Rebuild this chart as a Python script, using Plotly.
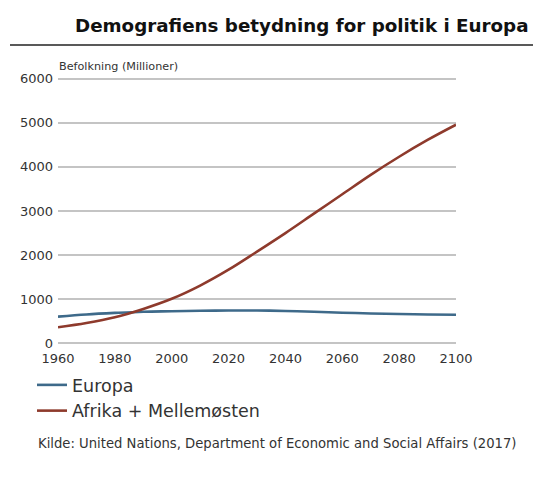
import plotly.graph_objects as go

years = [1960, 1970, 1980, 1990, 2000, 2010, 2020, 2030, 2040, 2050, 2060, 2070, 2080, 2090, 2100]
europa = [605, 655, 690, 718, 728, 738, 745, 745, 735, 715, 695, 678, 665, 655, 650]
afrika_mellemoesten = [364, 460, 590, 780, 1010, 1310, 1670, 2080, 2500, 2940, 3380, 3820, 4230, 4610, 4955]
y_ticks = [0, 1000, 2000, 3000, 4000, 5000, 6000]
x_ticks = [1960, 1980, 2000, 2020, 2040, 2060, 2080, 2100]

W, H = 533, 488
L, R, T, B = 58, 77, 76, 142
pw, ph = W - L - R, H - T - B


def px(x):
    return (x - L) / pw


def py(y):
    return (H - B - y) / ph


FONT = "DejaVu Sans"
fig = go.Figure()
fig.add_trace(go.Scatter(x=years, y=europa, name="Europa", mode="lines",
                         line=dict(color="#3e6a8a", width=2.6, shape="spline")))
fig.add_trace(go.Scatter(x=years, y=afrika_mellemoesten, name="Afrika + Mellemøsten", mode="lines",
                         line=dict(color="#8e3a2c", width=2.6, shape="spline")))

fig.update_layout(
    width=W, height=H,
    margin=dict(l=L, r=R, t=T, b=B),
    paper_bgcolor="white", plot_bgcolor="white",
    font=dict(family=FONT, color="#333333", size=13),
    xaxis=dict(range=[1960, 2100], tickvals=x_ticks, showgrid=False, zeroline=False,
               showline=False, ticks="", ticklabelstandoff=3,
               tickfont=dict(size=13, color="#333333")),
    yaxis=dict(range=[-60, 6060], tickvals=y_ticks, showgrid=True, gridcolor="#c4c4c4",
               gridwidth=1.6, zeroline=False, showline=False, ticks="",
               ticklabelstandoff=4, tickfont=dict(size=13, color="#333333")),
    legend=dict(x=px(32), y=py(367), xanchor="left", yanchor="top",
                font=dict(size=17.5, color="#333333"), tracegroupgap=0,
                bgcolor="rgba(0,0,0,0)"),
    showlegend=True,
)

fig.add_annotation(text="<b>Demografiens betydning for politik i Europa</b>",
                   xref="paper", yref="paper", x=px(531), y=py(25),
                   xanchor="right", yanchor="middle", showarrow=False,
                   font=dict(family=FONT, size=18.3, color="#111111"))
fig.add_shape(type="line", xref="paper", yref="paper",
              x0=px(10), x1=px(533), y0=py(45), y1=py(45),
              line=dict(color="#222222", width=1.5))
fig.add_annotation(text="Befolkning (Millioner)", xref="paper", yref="paper",
                   x=px(57), y=py(67), xanchor="left", yanchor="middle", showarrow=False,
                   font=dict(family=FONT, size=11.2, color="#333333"))
fig.add_annotation(text="Kilde: United Nations, Department of Economic and Social Affairs (2017)",
                   xref="paper", yref="paper", x=px(36), y=py(443),
                   xanchor="left", yanchor="middle", showarrow=False,
                   font=dict(family=FONT, size=13.2, color="#333333"))

fig.write_html("out.html")
